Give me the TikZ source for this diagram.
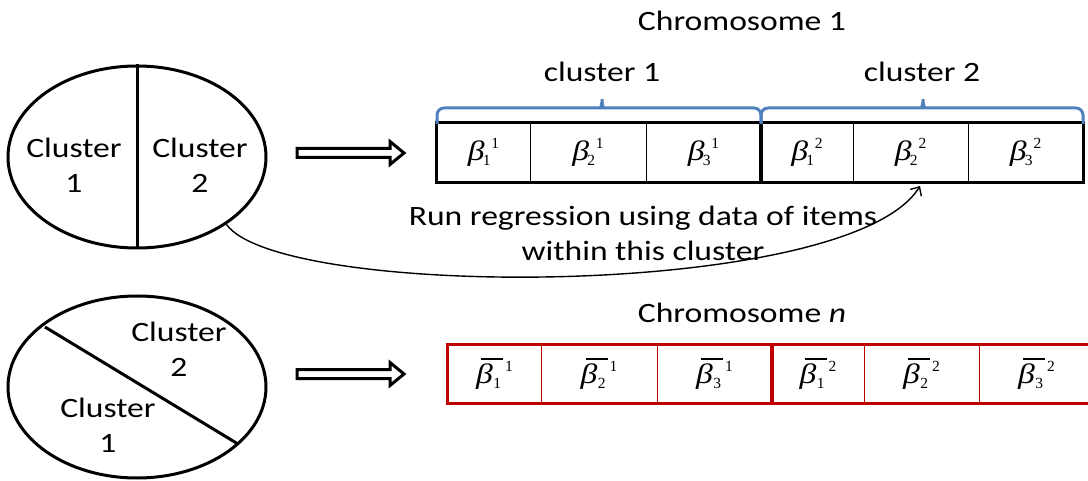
\documentclass[tikz,border=0pt]{standalone}
\usepackage{fontspec}
\usepackage{graphicx}
\setmainfont{Carlito}[FakeStretch=1.2]
\newfontfamily\tms{Liberation Serif}
\usetikzlibrary{shapes.geometric,arrows.meta}
\definecolor{braceblue}{RGB}{79,129,189}
\definecolor{chred}{RGB}{192,0,0}
\newcommand{\scr}[1]{{\fontsize{15.5}{15.5}\selectfont\tms #1}}
\newcommand{\bsym}{\scalebox{1.2}[1]{\fontsize{28}{28}\selectfont\tms\itshape β}}
\newcommand{\bt}[2]{\bsym\kern-1.5pt\rlap{\raisebox{-5pt}{\scr{#1}}}\kern8.5pt\raisebox{12pt}{\scr{#2}}}
\newcommand{\bbar}[2]{\rlap{\kern5pt\rule[24pt]{22pt}{1.3pt}}\bsym\kern0.5pt\raisebox{-5pt}{\scr{#1}}\kern4pt\raisebox{12pt}{\scr{#2}}}
\begin{document}
\begin{tikzpicture}[x=1pt,y=-1pt,
  lbl/.style={font=\fontsize{28}{35}\selectfont, inner sep=0, align=center},
  clus/.style={draw, ellipse, line width=3, minimum width=258, minimum height=182, inner sep=0},
  cell/.style={font=\fontsize{27}{30}\selectfont, inner sep=0, minimum height=59},
  thin/.style={line width=1.3},
  thick/.style={line width=3},
  brace/.style={draw=braceblue, line width=3, rounded corners=7},
  darrow/.style={line width=3, line join=miter},
  conn/.style={line width=1.4, -{Straight Barb[length=7,width=13]}}]
\useasboundingbox (0,0) rectangle (1088,481);

% ellipses
\node[clus] (e1) at (137,157) {};
\node[clus] (e2) at (137,387) {};
\draw[thick] (e1.north) -- (e1.south);
\coordinate (d1) at (45,327);
\coordinate (d2) at (238,444);
\draw[thick] (d1) -- (d2);
\node[lbl] (t11) at (74,165) {Cluster\\1};
\node[lbl] (t12) at (200,165) {Cluster\\2};
\node[lbl] (t22) at (179,349) {Cluster\\2};
\node[lbl] (t21) at (108,425) {Cluster\\1};

% double arrows
\draw[darrow] (297,148.5) -- (390,148.5) -- (390,141.5) -- (404,153) -- (390,164.5) -- (390,157.5) -- (297,157.5) -- cycle;
\draw[darrow] (297,369.5) -- (390,369.5) -- (390,362.5) -- (404,374) -- (390,385.5) -- (390,378.5) -- (297,378.5) -- cycle;

% chromosome 1
\node[lbl] (ch1) at (742,21) {Chromosome 1};
\node[cell, minimum width=93] (b11) at (483.5,152.5) {\bt{1}{1}};
\node[cell, minimum width=116] (b12) at (588,152.5) {\bt{2}{1}};
\node[cell, minimum width=115] (b13) at (703.5,152.5) {\bt{3}{1}};
\node[cell, minimum width=92] (b21) at (807,152.5) {\bt{1}{2}};
\node[cell, minimum width=115] (b22) at (910.5,152.5) {\bt{2}{2}};
\node[cell, minimum width=115] (b23) at (1025.5,152.5) {\bt{3}{2}};
\draw[thin] (b11.north east) -- (b11.south east);
\draw[thin] (b12.north east) -- (b12.south east);
\draw[thin] (b21.north east) -- (b21.south east);
\draw[thin] (b22.north east) -- (b22.south east);
\draw[line width=3.5] (b13.north east) -- (b13.south east);
\draw[thick] (b11.north west) rectangle (b23.south east);

% braces
\draw[brace] (437,124) -- (437,108) -- (594,108) .. controls (600,108) and (602,104) .. (602,95) .. controls (602,104) and (604,108) .. (610,108) -- (761,108) -- (761,124);
\draw[brace] (761,124) -- (761,108) -- (915,108) .. controls (921,108) and (923,104) .. (923,95) .. controls (923,104) and (925,108) .. (931,108) -- (1083,108) -- (1083,124);
\node[lbl] (cl1) at (602,72) {cluster 1};
\node[lbl] (cl2) at (922,72) {cluster 2};

% regression note and connector
\node[lbl] (note) at (643,233) {Run regression using data of items\\within this cluster};
\coordinate (tip) at (920,186);
\draw[conn] (e1.-37) .. controls (280,300) and (850,300) .. (tip);

% chromosome n
\node[lbl] (chn) at (742,313) {Chromosome \textit{n}};
\begin{scope}[every node/.append style={cell, minimum height=58}]
\node[minimum width=93] (c11) at (494.5,374) {\bbar{1}{1}};
\node[minimum width=116] (c12) at (599,374) {\bbar{2}{1}};
\node[minimum width=115] (c13) at (714.5,374) {\bbar{3}{1}};
\node[minimum width=92] (c21) at (818,374) {\bbar{1}{2}};
\node[minimum width=115] (c22) at (921.5,374) {\bbar{2}{2}};
\node[minimum width=115] (c23) at (1036.5,374) {\bbar{3}{2}};
\end{scope}
\draw[chred, thin] (c11.north east) -- (c11.south east);
\draw[chred, thin] (c12.north east) -- (c12.south east);
\draw[chred, thin] (c21.north east) -- (c21.south east);
\draw[chred, thin] (c22.north east) -- (c22.south east);
\draw[chred, line width=3.5] (c13.north east) -- (c13.south east);
\draw[chred, thick] (c23.north east) -- (c11.north east |- c11.north) -- (c11.north west) -- (c11.south west) -- (c23.south east |- c11.south);
\end{tikzpicture}
\end{document}
